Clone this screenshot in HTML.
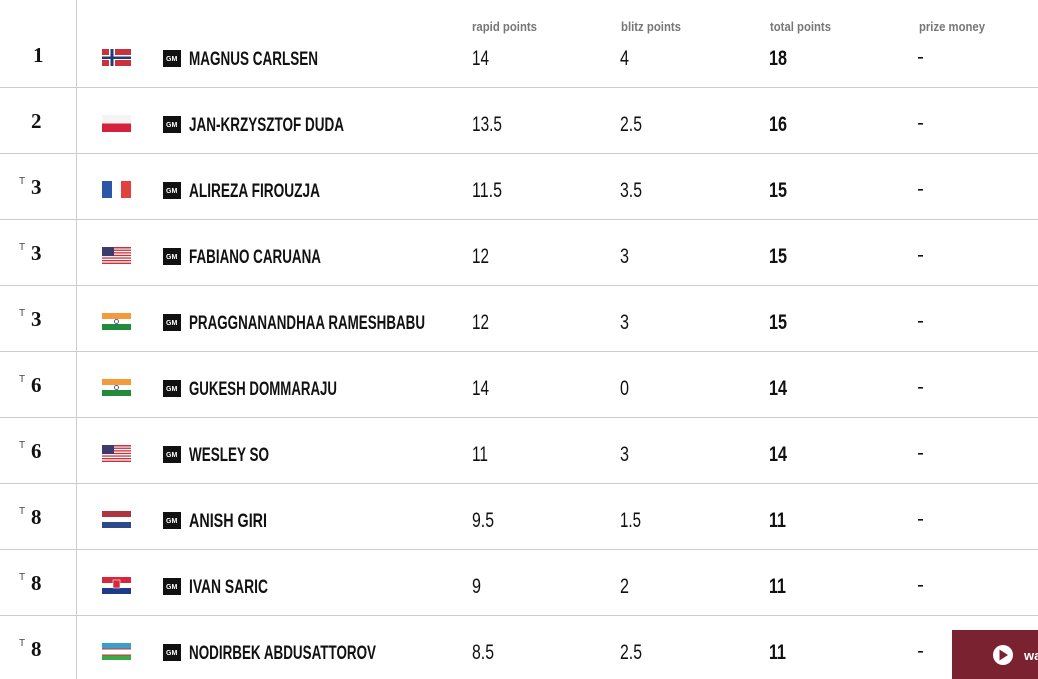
<!DOCTYPE html>
<html><head><meta charset="utf-8"><style>
html,body{margin:0;padding:0;background:#fff;width:1038px;height:679px;overflow:hidden}
svg{display:block}
.hd{font-family:"Liberation Sans Narrow","Liberation Sans",sans-serif;font-weight:bold;font-size:13px;fill:#777}
.nm{font-family:"Liberation Sans Narrow","Liberation Sans",sans-serif;font-weight:bold;font-size:19px;fill:#111}
.v{font-family:"Liberation Sans Narrow","Liberation Sans",sans-serif;font-size:21px;fill:#111}
.vb{font-family:"Liberation Sans Narrow","Liberation Sans",sans-serif;font-weight:bold;font-size:21px;fill:#111}
.rk{font-family:"Liberation Serif",serif;font-weight:bold;font-size:21px;fill:#111}
.t{font-family:"Liberation Sans",sans-serif;font-size:10px;fill:#444}
.gm{font-family:"Liberation Sans",sans-serif;font-weight:bold;font-size:7px;fill:#fff}
.d{fill:#111}
</style></head><body>
<svg width="1038" height="679" xmlns="http://www.w3.org/2000/svg">
<defs>
<g id="us"><rect width="29" height="17" fill="#fff"/><g fill="#c8323c"><rect y="0" width="29" height="1.5"/><rect y="2.6" width="29" height="1.3"/><rect y="5.2" width="29" height="1.3"/><rect y="7.8" width="29" height="1.3"/><rect y="10.4" width="29" height="1.3"/><rect y="13" width="29" height="1.3"/><rect y="15.6" width="29" height="1.4"/></g><rect width="12" height="9" fill="#3c3b6e"/></g>
<g id="in"><rect width="29" height="6" fill="#f49a3a"/><rect y="6" width="29" height="5" fill="#fff"/><rect y="11" width="29" height="6" fill="#238a3b"/><circle cx="14.5" cy="8.5" r="2" fill="none" stroke="#1a3a8a" stroke-width="0.8"/></g>
<g id="gm"><rect x="163" y="50" width="18" height="17" fill="#111"/><text class="gm" x="166" y="61">GM</text></g>
<rect id="dash" x="918" y="57" width="5" height="1.6" fill="#111"/>
</defs>
<line x1="76.5" y1="0" x2="76.5" y2="679" stroke="#ccc"/>
<g stroke="#ccc"><line x1="0" y1="87.5" x2="1038" y2="87.5"/><line x1="0" y1="153.5" x2="1038" y2="153.5"/><line x1="0" y1="219.5" x2="1038" y2="219.5"/><line x1="0" y1="285.5" x2="1038" y2="285.5"/><line x1="0" y1="351.5" x2="1038" y2="351.5"/><line x1="0" y1="417.5" x2="1038" y2="417.5"/><line x1="0" y1="483.5" x2="1038" y2="483.5"/><line x1="0" y1="549.5" x2="1038" y2="549.5"/><line x1="0" y1="615.5" x2="1038" y2="615.5"/></g>
<text class="hd" x="472" y="31" textLength="65" lengthAdjust="spacingAndGlyphs">rapid points</text>
<text class="hd" x="621" y="31" textLength="60" lengthAdjust="spacingAndGlyphs">blitz points</text>
<text class="hd" x="770" y="31" textLength="61" lengthAdjust="spacingAndGlyphs">total points</text>
<text class="hd" x="919" y="31" textLength="66" lengthAdjust="spacingAndGlyphs">prize money</text>

<g transform="translate(0,0)">
<text class="rk" x="33" y="62">1</text>
<rect x="102" y="49" width="29" height="17" fill="#c8323c"/><rect x="109" y="49" width="6" height="17" fill="#fff"/><rect x="102" y="55" width="29" height="5" fill="#fff"/><rect x="110.5" y="49" width="3" height="17" fill="#1f3a7a"/><rect x="102" y="56.5" width="29" height="2.5" fill="#1f3a7a"/>
<use href="#gm"/>
<text class="nm" x="189" y="65" textLength="129" lengthAdjust="spacingAndGlyphs">MAGNUS CARLSEN</text>
<text class="v" x="472" y="65" textLength="17" lengthAdjust="spacingAndGlyphs">14</text><text class="v" x="620" y="65" textLength="9" lengthAdjust="spacingAndGlyphs">4</text><text class="vb" x="769" y="65" textLength="18" lengthAdjust="spacingAndGlyphs">18</text><use href="#dash"/>
</g>
<g transform="translate(0,66)">
<text class="rk" x="31" y="62">2</text>
<rect x="102" y="49" width="29" height="8.5" fill="#f4f4f4"/><rect x="102" y="57.5" width="29" height="8.5" fill="#d4213d"/>
<use href="#gm"/>
<text class="nm" x="189" y="65" textLength="155" lengthAdjust="spacingAndGlyphs">JAN-KRZYSZTOF DUDA</text>
<text class="v" x="472" y="65" textLength="30" lengthAdjust="spacingAndGlyphs">13.5</text><text class="v" x="620" y="65" textLength="22" lengthAdjust="spacingAndGlyphs">2.5</text><text class="vb" x="769" y="65" textLength="18" lengthAdjust="spacingAndGlyphs">16</text><use href="#dash"/>
</g>
<g transform="translate(0,132)">
<text class="t" x="19" y="52">T</text><text class="rk" x="31" y="62">3</text>
<rect x="102" y="49" width="10" height="17" fill="#2d55a8"/><rect x="112" y="49" width="9" height="17" fill="#fff"/><rect x="121" y="49" width="10" height="17" fill="#e0433e"/>
<use href="#gm"/>
<text class="nm" x="189" y="65" textLength="131" lengthAdjust="spacingAndGlyphs">ALIREZA FIROUZJA</text>
<text class="v" x="472" y="65" textLength="30" lengthAdjust="spacingAndGlyphs">11.5</text><text class="v" x="620" y="65" textLength="22" lengthAdjust="spacingAndGlyphs">3.5</text><text class="vb" x="769" y="65" textLength="18" lengthAdjust="spacingAndGlyphs">15</text><use href="#dash"/>
</g>
<g transform="translate(0,198)">
<text class="t" x="19" y="52">T</text><text class="rk" x="31" y="62">3</text>
<use href="#us" x="102" y="49"/>
<use href="#gm"/>
<text class="nm" x="189" y="65" textLength="132" lengthAdjust="spacingAndGlyphs">FABIANO CARUANA</text>
<text class="v" x="472" y="65" textLength="17" lengthAdjust="spacingAndGlyphs">12</text><text class="v" x="620" y="65" textLength="9" lengthAdjust="spacingAndGlyphs">3</text><text class="vb" x="769" y="65" textLength="18" lengthAdjust="spacingAndGlyphs">15</text><use href="#dash"/>
</g>
<g transform="translate(0,264)">
<text class="t" x="19" y="52">T</text><text class="rk" x="31" y="62">3</text>
<use href="#in" x="102" y="49"/>
<use href="#gm"/>
<text class="nm" x="189" y="65" textLength="236" lengthAdjust="spacingAndGlyphs">PRAGGNANANDHAA RAMESHBABU</text>
<text class="v" x="472" y="65" textLength="17" lengthAdjust="spacingAndGlyphs">12</text><text class="v" x="620" y="65" textLength="9" lengthAdjust="spacingAndGlyphs">3</text><text class="vb" x="769" y="65" textLength="18" lengthAdjust="spacingAndGlyphs">15</text><use href="#dash"/>
</g>
<g transform="translate(0,330)">
<text class="t" x="19" y="52">T</text><text class="rk" x="31" y="62">6</text>
<use href="#in" x="102" y="49"/>
<use href="#gm"/>
<text class="nm" x="189" y="65" textLength="148" lengthAdjust="spacingAndGlyphs">GUKESH DOMMARAJU</text>
<text class="v" x="472" y="65" textLength="17" lengthAdjust="spacingAndGlyphs">14</text><text class="v" x="620" y="65" textLength="9" lengthAdjust="spacingAndGlyphs">0</text><text class="vb" x="769" y="65" textLength="18" lengthAdjust="spacingAndGlyphs">14</text><use href="#dash"/>
</g>
<g transform="translate(0,396)">
<text class="t" x="19" y="52">T</text><text class="rk" x="31" y="62">6</text>
<use href="#us" x="102" y="49"/>
<use href="#gm"/>
<text class="nm" x="189" y="65" textLength="80" lengthAdjust="spacingAndGlyphs">WESLEY SO</text>
<text class="v" x="472" y="65" textLength="16" lengthAdjust="spacingAndGlyphs">11</text><text class="v" x="620" y="65" textLength="9" lengthAdjust="spacingAndGlyphs">3</text><text class="vb" x="769" y="65" textLength="18" lengthAdjust="spacingAndGlyphs">14</text><use href="#dash"/>
</g>
<g transform="translate(0,462)">
<text class="t" x="19" y="52">T</text><text class="rk" x="31" y="62">8</text>
<rect x="102" y="49" width="29" height="6" fill="#b0333e"/><rect x="102" y="55" width="29" height="5" fill="#fff"/><rect x="102" y="60" width="29" height="6" fill="#2c4a8a"/>
<use href="#gm"/>
<text class="nm" x="189" y="65" textLength="78" lengthAdjust="spacingAndGlyphs">ANISH GIRI</text>
<text class="v" x="472" y="65" textLength="22" lengthAdjust="spacingAndGlyphs">9.5</text><text class="v" x="620" y="65" textLength="21" lengthAdjust="spacingAndGlyphs">1.5</text><text class="vb" x="769" y="65" textLength="17" lengthAdjust="spacingAndGlyphs">11</text><use href="#dash"/>
</g>
<g transform="translate(0,528)">
<text class="t" x="19" y="52">T</text><text class="rk" x="31" y="62">8</text>
<rect x="102" y="49" width="29" height="6" fill="#d8263a"/><rect x="102" y="55" width="29" height="5" fill="#fff"/><rect x="102" y="60" width="29" height="6" fill="#1e3a8a"/><rect x="113" y="52" width="7" height="8" fill="#d8263a" stroke="#fff" stroke-width="0.6"/>
<use href="#gm"/>
<text class="nm" x="189" y="65" textLength="79" lengthAdjust="spacingAndGlyphs">IVAN SARIC</text>
<text class="v" x="472" y="65" textLength="9" lengthAdjust="spacingAndGlyphs">9</text><text class="v" x="620" y="65" textLength="9" lengthAdjust="spacingAndGlyphs">2</text><text class="vb" x="769" y="65" textLength="17" lengthAdjust="spacingAndGlyphs">11</text><use href="#dash"/>
</g>
<g transform="translate(0,594)">
<text class="t" x="19" y="52">T</text><text class="rk" x="31" y="62">8</text>
<rect x="102" y="49" width="29" height="5.5" fill="#3aa0c8"/><rect x="102" y="54.5" width="29" height="1" fill="#c33"/><rect x="102" y="55.5" width="29" height="5" fill="#fff"/><rect x="102" y="60.5" width="29" height="1" fill="#c33"/><rect x="102" y="61.5" width="29" height="4.5" fill="#3aa94a"/>
<use href="#gm"/>
<text class="nm" x="189" y="65" textLength="187" lengthAdjust="spacingAndGlyphs">NODIRBEK ABDUSATTOROV</text>
<text class="v" x="472" y="65" textLength="22" lengthAdjust="spacingAndGlyphs">8.5</text><text class="v" x="620" y="65" textLength="22" lengthAdjust="spacingAndGlyphs">2.5</text><text class="vb" x="769" y="65" textLength="17" lengthAdjust="spacingAndGlyphs">11</text><use href="#dash"/>
</g>
<rect x="952" y="630" width="86" height="49" fill="#7a2230"/>
<circle cx="1003" cy="655" r="10" fill="#fff"/><path d="M999.5 649.5 L1008 655 L999.5 660.5 Z" fill="#7a2230"/>
<text x="1024" y="660" font-family="Liberation Sans,sans-serif" font-weight="bold" font-size="13" fill="#fff">wa</text>
</svg>
</body></html>
